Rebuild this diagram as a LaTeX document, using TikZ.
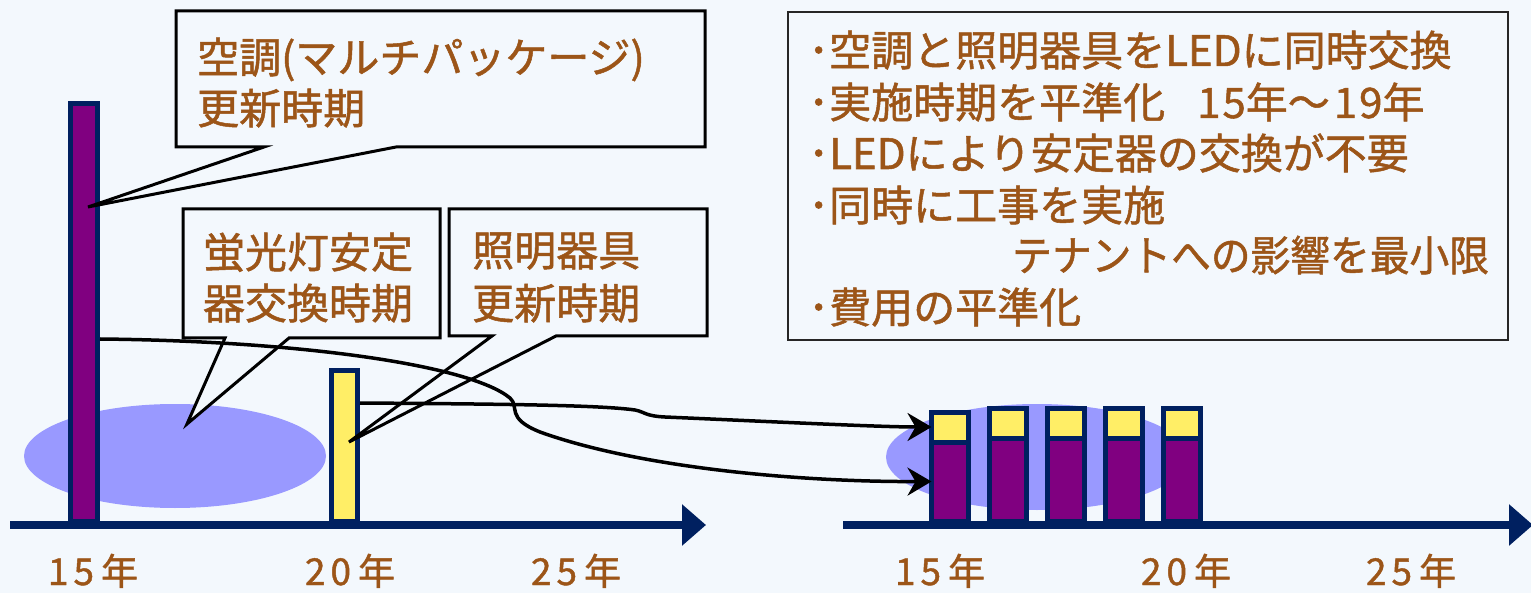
\documentclass[tikz,border=0pt]{standalone}
\usepackage{fontspec}
\setmainfont{Noto Sans CJK JP}
\newfontfamily\jpfont{Noto Sans CJK JP}[FakeBold=1.2]
\usetikzlibrary{arrows.meta,calc}
\definecolor{bg}{HTML}{F3F8FD}
\definecolor{navy}{HTML}{002060}
\definecolor{barpurple}{HTML}{800080}
\definecolor{baryellow}{HTML}{FFEE66}
\definecolor{blob}{HTML}{9999FF}
\definecolor{txt}{HTML}{9C5518}
\newcommand{\yrtext}[2]{#1\kern5pt#2\kern7pt年}
\begin{document}
\begin{tikzpicture}[x=1pt,y=-1pt,
  bar/.style={draw=navy, line width=5pt, rectangle, inner sep=0pt, outer sep=0pt},
  callout/.style={draw=black, line width=3pt, fill=bg},
  lbl/.style={text=txt, font=\jpfont\fontsize{42pt}{51pt}\selectfont, inner sep=0pt, anchor=base west},
  clbl/.style={text=txt, font=\jpfont\fontsize{42pt}{51pt}\selectfont, inner sep=0pt, anchor=base},
  yr/.style={text=txt, font=\jpfont\fontsize{37pt}{44pt}\selectfont, inner sep=0pt, anchor=base},
  axis/.style={draw=navy, line width=8pt, -{Triangle[length=24pt,width=40pt]}},
  conn/.style={draw=black, line width=3.5pt, -{Stealth[length=24pt,width=28pt,inset=8pt]}}
]
\useasboundingbox (0,0) rectangle (1531,593);
\fill[bg] (0,0) rectangle (1531,593);

% blobs
\fill[blob] (175,456) ellipse [x radius=151pt, y radius=52pt];
\fill[blob] (1037,457) ellipse [x radius=151pt, y radius=53pt];

% left bars
\node[bar, fill=barpurple, minimum width=27pt, minimum height=417.5pt] (pbar) at (84,312.25) {};
\node[bar, fill=baryellow, minimum width=26pt, minimum height=150.5pt] (ybar) at (344.5,445.75) {};

% right bars
\node[bar, fill=baryellow, minimum width=37pt, minimum height=30pt] (rb1y) at (950,427) {};
\node[bar, fill=barpurple, minimum width=37pt, minimum height=79pt] (rb1p) at (950,481.5) {};
\foreach \i/\xx in {2/1008,3/1066,4/1124,5/1182}{
  \node[bar, fill=baryellow, minimum width=37pt, minimum height=30.5pt] (rb\i y) at (\xx,423.25) {};
  \node[bar, fill=barpurple, minimum width=37pt, minimum height=82.5pt] (rb\i p) at (\xx,479.75) {};
}

% axes
\coordinate (axL0) at (10,525);
\coordinate (axL1) at (706,525);
\coordinate (axR0) at (843,525);
\coordinate (axR1) at (1533,525);
\draw[axis] (axL0) -- (axL1);
\draw[axis] (axR0) -- (axR1);

% year labels
\node[yr] (yl15) at (93,585) {\yrtext{1}{5}};
\node[yr] (yl20) at (350,585) {\yrtext{2}{0}};
\node[yr] (yl25) at (576,585) {\yrtext{2}{5}};
\node[yr] (yr15) at (940,585) {\yrtext{1}{5}};
\node[yr] (yr20) at (1186,585) {\yrtext{2}{0}};
\node[yr] (yr25) at (1411,585) {\yrtext{2}{5}};

% callouts
\draw[callout] (176,11) -- (705,11) -- (705,147) -- (396,147) -- (88,207) -- (264,147) -- (176,147) -- cycle;
\node[lbl] (c1a) at (197,73) {空調(マルチパッケージ)};
\node[lbl] (c1b) at (197,124) {更新時期};

\draw[callout] (183,209) -- (440,209) -- (440,338) -- (289,338) -- (187,424) -- (225,338) -- (183,338) -- cycle;
\node[clbl] (c2a) at (308,268) {蛍光灯安定};
\node[clbl] (c2b) at (308,319) {器交換時期};

\draw[callout] (449,209) -- (707,209) -- (707,336) -- (556,336) -- (349,442) -- (492,336) -- (449,336) -- cycle;
\node[lbl] (c3a) at (472,266) {照明器具};
\node[lbl] (c3b) at (472,319) {更新時期};

% summary box
\draw[draw=black!85, line width=2.5pt, fill=bg] (788,12) rectangle (1508,340);
\node[lbl] (r1) at (808,66) {･空調と照明器具をLEDに同時交換};
\node[lbl] (r2) at (808,118) {･実施時期を平準化};
\node[lbl] (r2b) at (1197,118) {1\kern2pt5年～\kern4pt1\kern2pt9年};
\node[lbl] (r3) at (808,169) {･LEDにより安定器の交換が不要};
\node[lbl] (r4) at (808,221) {･同時に工事を実施};
\node[lbl] (r5) at (1012,271) {\scalebox{0.946}[1]{テナントへの影響を最小限}};
\node[lbl] (r6) at (808,323) {･費用の平準化};

% connectors
\coordinate (aS) at (360,403);
\coordinate (bS) at (100,339);
\draw[conn] (aS) .. controls (500,404) and (600,405) .. (635,410) .. controls (645,412) and (645,416) .. (665,417) .. controls (780,422) and (880,427) .. (rb1y.west);
\draw[conn] (bS) .. controls (300,341) and (470,365) .. (510,398) .. controls (520,407) and (505,418) .. (540,432) .. controls (640,468) and (800,482) .. (rb1p.west);
\end{tikzpicture}
\end{document}
